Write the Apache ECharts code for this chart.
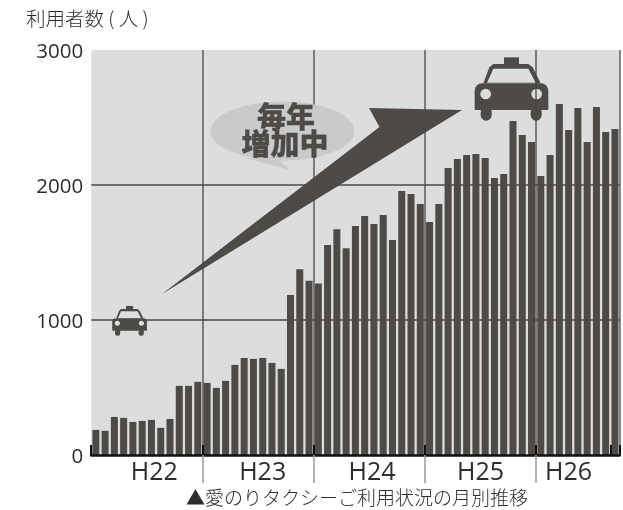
<!DOCTYPE html>
<html>
<head>
<meta charset="utf-8">
<style>html,body{margin:0;padding:0;background:#fff}#c{width:623px;height:510px}</style>
<script src="https://cdn.jsdelivr.net/npm/echarts@6/dist/echarts.min.js"></script>
</head>
<body>
<div id="c"></div>
<script>
const monthCategories = [];
const eraLabels = ['H22', 'H23', 'H24', 'H25', 'H26'];
const eraLabelPositions = [6.8, 18.5, 30.3, 42, 51.5];
const eraDividers = [12, 24, 36, 48];
const h22 = [186, 179, 282, 275, 245, 253, 260, 201, 267, 512, 512, 542];
const h23 = [534, 497, 549, 668, 719, 712, 719, 682, 638, 1186, 1376, 1290];
const h24 = [1270, 1555, 1672, 1532, 1696, 1770, 1711, 1778, 1593, 1955, 1933, 1859];
const h25 = [1726, 1859, 2126, 2193, 2222, 2230, 2200, 2052, 2081, 2474, 2370, 2318];
const h26 = [2067, 2222, 2600, 2407, 2570, 2318, 2578, 2393, 2415];
const users = [...h22, ...h23, ...h24, ...h25, ...h26];
users.forEach((_, i) => monthCategories.push(String(i)));

const DARK = '#4d4a48', BG = '#dcdedd', BUBBLE = '#c9cbca', TEXT = '#2f2d2c';
const LATIN = '"Open Sans", sans-serif';
const CJK = '"Noto Sans CJK JP", sans-serif';

function taxi(x, y, s, z) {
  return {
    type: 'group', x, y, scaleX: s, scaleY: s, z,
    children: [
      { type: 'rect', z, shape: { x: 462, y: 22, width: 45, height: 24 }, style: { fill: DARK } },
      { type: 'polygon', z, shape: { points: [[400, 100], [418, 52], [430, 42], [535, 42], [548, 52], [572, 100]] }, style: { fill: DARK } },
      { type: 'rect', z, shape: { x: 374, y: 100, width: 221, height: 80, r: [22, 22, 3, 3] }, style: { fill: DARK } },
      { type: 'rect', z, shape: { x: 392, y: 170, width: 33, height: 42, r: 16 }, style: { fill: DARK } },
      { type: 'rect', z, shape: { x: 542, y: 170, width: 33, height: 42, r: 16 }, style: { fill: DARK } },
      { type: 'polygon', z, z2: 5, shape: { points: [[411, 98], [430, 56], [535, 56], [557, 98]] }, style: { fill: BG } },
      { type: 'circle', z, z2: 5, shape: { cx: 407, cy: 132, r: 16 }, style: { fill: BG } },
      { type: 'circle', z, z2: 5, shape: { cx: 560, cy: 132, r: 16 }, style: { fill: BG } }
    ]
  };
}

const chart = echarts.init(document.getElementById('c'), null, { renderer: 'canvas' });
chart.setOption({
  animation: false,
  backgroundColor: '#fff',
  grid: { left: 91.2, right: 3.4, top: 50, bottom: 55, show: true, backgroundColor: BG, borderWidth: 0 },
  xAxis: [
    {
      type: 'category', data: monthCategories, z: 3,
      axisLine: { show: true, lineStyle: { color: '#111', width: 2.5 } },
      axisTick: { show: true, inside: true, length: 10, interval: i => i % 12 === 0 || i >= 56, lineStyle: { color: '#111', width: 2 } },
      axisLabel: { show: false },
      splitLine: { show: true, interval: i => i % 12 === 0 && i > 0, lineStyle: { color: 'rgba(70,68,66,0.85)', width: 1.5 } }
    },
    {
      type: 'value', min: 0, max: 57, position: 'bottom', z: 3,
      axisLine: { show: false },
      axisTick: { show: true, length: 28, customValues: eraDividers, lineStyle: { color: '#9a9a9a', width: 1.5 } },
      axisLabel: {
        show: true, customValues: eraLabelPositions, margin: 5, hideOverlap: false,
        fontFamily: LATIN, fontSize: 25, color: TEXT,
        formatter: v => eraLabels[eraLabelPositions.indexOf(v)]
      },
      splitLine: { show: false }
    }
  ],
  yAxis: {
    type: 'value', min: 0, max: 3000, interval: 1000, z: 3,
    axisLine: { show: false }, axisTick: { show: false },
    axisLabel: {
      margin: 8, color: TEXT,
      formatter: v => '{n|' + v + '}',
      rich: { n: { fontFamily: LATIN, fontSize: 20.5, color: TEXT, padding: [5, 0, 0, 0] } }
    },
    splitLine: { show: true, showMinLine: false, showMaxLine: false, lineStyle: { color: DARK, width: 1.5 } }
  },
  series: [{
    type: 'bar', data: users, barWidth: 7, z: 2,
    itemStyle: { color: DARK }
  }],
  graphic: [
    { type: 'text', x: 26, y: 9, z: 5, style: { text: '利用者数 ( 人 )', font: '300 19.5px ' + CJK, fill: TEXT } },
    { type: 'text', x: 186, y: 488, z: 5, style: { text: '▲愛のりタクシーご利用状況の月別推移', font: '300 19px ' + CJK, fill: TEXT } },
    { type: 'polygon', z: 4, shape: { points: [[162, 294], [379.5, 127], [369, 108], [462, 110]] }, style: { fill: DARK } },
    { type: 'ellipse', z: 4, shape: { cx: 282.5, cy: 131, rx: 72, ry: 29.5 }, style: { fill: BUBBLE } },
    { type: 'polygon', z: 4, shape: { points: [[245, 158], [290, 170], [277, 158]] }, style: { fill: BUBBLE } },
    { type: 'text', x: 286, y: 117, z: 5, style: { text: '毎年', font: '900 29px ' + CJK, fill: DARK, align: 'center', verticalAlign: 'middle', stroke: DARK, lineWidth: 0.3 } },
    { type: 'text', x: 285, y: 144, z: 5, style: { text: '増加中', font: '900 29px ' + CJK, fill: DARK, align: 'center', verticalAlign: 'middle', stroke: DARK, lineWidth: 0.3 } },
    taxi(350, 50, 1 / 3, 2),
    taxi(53.5, 302.5, 0.157, 4)
  ]
});
</script>
</body>
</html>
